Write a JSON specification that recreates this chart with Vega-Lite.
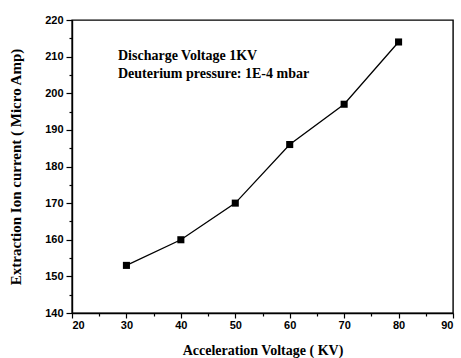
{
  "$schema": "https://vega.github.io/schema/vega-lite/v6.json",
  "width": 381,
  "height": 293,
  "autosize": {"type": "none"},
  "padding": {"left": 72, "top": 20, "right": 8, "bottom": 45},
  "background": "white",
  "config": {
    "view": {"stroke": "black", "strokeWidth": 1.4},
    "axis": {
      "domainColor": "black",
      "domainWidth": 1.4,
      "tickColor": "black",
      "tickWidth": 1.2,
      "ticks": true,
      "grid": false,
      "labelFont": "Liberation Sans",
      "labelFontWeight": "bold",
      "labelFontSize": 11,
      "labelColor": "black",
      "titleFont": "Liberation Serif",
      "titleFontWeight": "bold",
      "titleFontSize": 14,
      "titleColor": "black"
    }
  },
  "resolve": {"axis": {"x": "independent", "y": "independent"}},
  "layer": [
    {
      "data": {
        "values": [
          {"x": 30, "y": 153},
          {"x": 40, "y": 160},
          {"x": 50, "y": 170},
          {"x": 60, "y": 186},
          {"x": 70, "y": 197},
          {"x": 80, "y": 214}
        ]
      },
      "mark": {
        "type": "line",
        "color": "black",
        "strokeWidth": 1.3,
        "point": {"shape": "square", "filled": true, "size": 50, "color": "black", "opacity": 1}
      },
      "encoding": {
        "x": {
          "field": "x",
          "type": "quantitative",
          "scale": {"domain": [20, 90], "nice": false, "zero": false},
          "axis": {
            "orient": "bottom",
            "title": "Acceleration Voltage ( KV)",
            "values": [20, 25, 30, 35, 40, 45, 50, 55, 60, 65, 70, 75, 80, 85, 90],
            "labelExpr": "datum.value % 10 == 0 ? datum.label : ''",
            "tickSize": {"condition": {"test": "datum.value % 10 != 0", "value": 3}, "value": 5},
            "labelPadding": 1,
            "titlePadding": 13
          }
        },
        "y": {
          "field": "y",
          "type": "quantitative",
          "scale": {"domain": [140, 220], "nice": false, "zero": false},
          "axis": {
            "orient": "left",
            "title": "Extraction Ion current ( Micro Amp)",
            "titleFontSize": 15,
            "values": [140, 145, 150, 155, 160, 165, 170, 175, 180, 185, 190, 195, 200, 205, 210, 215, 220],
            "labelExpr": "datum.value % 10 == 0 ? datum.label : ''",
            "tickSize": {"condition": {"test": "datum.value % 10 != 0", "value": 3}, "value": 6},
            "labelPadding": 3,
            "titlePadding": 21
          }
        }
      }
    },
    {
      "data": {
        "values": [
          {"x": 28.45, "y": 209.1, "label": "Discharge Voltage 1KV"},
          {"x": 28.45, "y": 204.3, "label": "Deuterium pressure: 1E-4 mbar"}
        ]
      },
      "mark": {
        "type": "text",
        "align": "left",
        "baseline": "alphabetic",
        "font": "Liberation Serif",
        "fontWeight": "bold",
        "fontSize": 14,
        "color": "black"
      },
      "encoding": {
        "text": {"field": "label"},
        "x": {
          "field": "x",
          "type": "quantitative",
          "scale": {"domain": [20, 90], "nice": false, "zero": false},
          "axis": null
        },
        "y": {
          "field": "y",
          "type": "quantitative",
          "scale": {"domain": [140, 220], "nice": false, "zero": false},
          "axis": null
        }
      }
    }
  ]
}
